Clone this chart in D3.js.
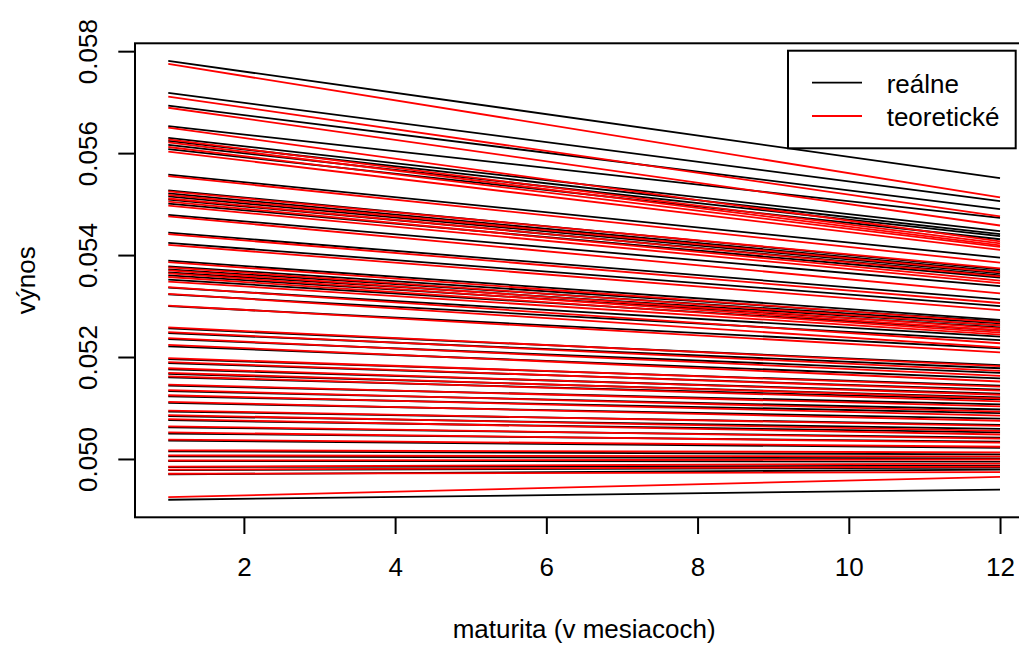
<!DOCTYPE html>
<html>
<head>
<meta charset="utf-8">
<script src="https://cdn.jsdelivr.net/npm/d3@7"></script>
<style>
  html, body { margin: 0; padding: 0; background: #ffffff; }
  svg { display: block; }
  text { font-family: "Liberation Sans", Arial, Helvetica, sans-serif; fill: #000; }
</style>
</head>
<body>
<div id="chart"></div>
<script>
// Maturities (months) at which each yield curve is evaluated
const maturities = [1, 12];

// Observed yield curves: yield at 1 month and at 12 months
const realStart = [
  0.05781, 0.05718, 0.05693, 0.05653, 0.05630, 0.05624, 0.05616, 0.05608,
  0.05558, 0.05527, 0.05521, 0.05515, 0.05509, 0.05501, 0.05479, 0.05444,
  0.05424, 0.05389, 0.05378, 0.05372, 0.05366, 0.05360, 0.05352, 0.05336,
  0.05323, 0.05300, 0.05256, 0.05247, 0.05235, 0.05221, 0.05196, 0.05188,
  0.05176, 0.05167, 0.05160, 0.05144, 0.05133, 0.05123, 0.05110, 0.05093,
  0.05084, 0.05076, 0.05062, 0.05050, 0.05036, 0.05015, 0.05005, 0.04996,
  0.04984, 0.04978, 0.04970, 0.04920
];
const realEnd = [
  0.05551, 0.05506, 0.05490, 0.05473, 0.05447, 0.05441, 0.05437, 0.05431,
  0.05395, 0.05372, 0.05368, 0.05364, 0.05360, 0.05356, 0.05339, 0.05313,
  0.05300, 0.05273, 0.05270, 0.05266, 0.05262, 0.05258, 0.05252, 0.05240,
  0.05233, 0.05217, 0.05184, 0.05178, 0.05169, 0.05158, 0.05144, 0.05136,
  0.05128, 0.05121, 0.05117, 0.05107, 0.05097, 0.05090, 0.05079, 0.05067,
  0.05059, 0.05052, 0.05042, 0.05034, 0.05022, 0.05009, 0.05001, 0.04995,
  0.04987, 0.04983, 0.04979, 0.04940
];

// Model (theoretical) yield curves: yield at 1 month and at 12 months
const theoStart = [
  0.05775, 0.05711, 0.05689, 0.05650, 0.05627, 0.05621, 0.05612, 0.05603,
  0.05555, 0.05525, 0.05518, 0.05511, 0.05505, 0.05497, 0.05476, 0.05441,
  0.05420, 0.05386, 0.05376, 0.05370, 0.05364, 0.05357, 0.05348, 0.05337,
  0.05324, 0.05301, 0.05258, 0.05249, 0.05237, 0.05224, 0.05198, 0.05190,
  0.05178, 0.05169, 0.05162, 0.05146, 0.05135, 0.05125, 0.05112, 0.05095,
  0.05086, 0.05078, 0.05064, 0.05052, 0.05038, 0.05017, 0.05007, 0.04997,
  0.04985, 0.04979, 0.04971, 0.04925
];
const theoEnd = [
  0.05513, 0.05476, 0.05458, 0.05427, 0.05423, 0.05419, 0.05416, 0.05410,
  0.05385, 0.05374, 0.05366, 0.05358, 0.05350, 0.05345, 0.05325, 0.05306,
  0.05292, 0.05268, 0.05262, 0.05256, 0.05252, 0.05248, 0.05244, 0.05227,
  0.05219, 0.05209, 0.05182, 0.05173, 0.05163, 0.05152, 0.05142, 0.05134,
  0.05126, 0.05119, 0.05113, 0.05103, 0.05093, 0.05085, 0.05075, 0.05065,
  0.05055, 0.05048, 0.05040, 0.05032, 0.05024, 0.05013, 0.05005, 0.04999,
  0.04991, 0.04985, 0.04974, 0.04965
];

// Axis ticks and labels
const xTicks = [2, 4, 6, 8, 10, 12];
const yTicks = [0.050, 0.052, 0.054, 0.056, 0.058];
const xTitle = "maturita (v mesiacoch)";
const yTitle = "výnos";
const legendLabels = ["reálne", "teoretické"];
const seriesColors = ["#000000", "#ff0000"];

const W = 1019, H = 646;
const plot = { left: 135, right: 1033.3, top: 43.3, bottom: 517.3 };
const fontSize = 26;

const realCurves = realStart.map((s, i) => [s, realEnd[i]]);
const theoCurves = theoStart.map((s, i) => [s, theoEnd[i]]);

// Axis limits extended by 4% on each side
function padded(ext) {
  const p = (ext[1] - ext[0]) * 0.04;
  return [ext[0] - p, ext[1] + p];
}
const allY = realStart.concat(realEnd, theoStart, theoEnd);

const x = d3.scaleLinear()
  .domain(padded(d3.extent(maturities)))
  .range([plot.left, plot.right]);
const y = d3.scaleLinear()
  .domain(padded(d3.extent(allY)))
  .range([plot.bottom, plot.top]);

const svg = d3.select("#chart").append("svg")
  .attr("width", W).attr("height", H);

svg.append("rect").attr("width", W).attr("height", H).attr("fill", "#fff");

const line = d3.line()
  .x((d, i) => x(maturities[i]))
  .y(d => y(d));

// Observed curves first, model curves drawn over them
const curves = svg.append("g").attr("fill", "none").attr("stroke-width", 1.8);
[realCurves, theoCurves].forEach((set, k) => {
  curves.append("g").selectAll("path")
    .data(set)
    .join("path")
    .attr("d", line)
    .attr("stroke", seriesColors[k]);
});

// Plot frame
svg.append("rect")
  .attr("x", plot.left).attr("y", plot.top)
  .attr("width", plot.right - plot.left).attr("height", plot.bottom - plot.top)
  .attr("fill", "none").attr("stroke", "#000").attr("stroke-width", 2);

// X axis
const gx = svg.append("g")
  .attr("transform", `translate(0,${plot.bottom})`)
  .call(d3.axisBottom(x).tickValues(xTicks).tickSize(16.7).tickFormat(d3.format("d")));
gx.select(".domain").remove();
gx.selectAll(".tick line").attr("stroke-width", 2);
gx.selectAll(".tick text")
  .attr("y", 58.7).attr("dy", 0)
  .attr("font-size", fontSize).attr("font-family", null);

// Y axis
const gy = svg.append("g")
  .attr("transform", `translate(${plot.left},0)`)
  .call(d3.axisLeft(y).tickValues(yTicks).tickSize(16.7).tickFormat(d3.format(".3f")));
gy.select(".domain").remove();
gy.selectAll(".tick line").attr("stroke-width", 2);
gy.selectAll(".tick text")
  .attr("x", 0).attr("dy", 0)
  .attr("text-anchor", "middle")
  .attr("transform", "translate(-38,0) rotate(-90)")
  .attr("font-size", fontSize).attr("font-family", null);

// Axis titles
svg.append("text")
  .attr("x", (plot.left + plot.right) / 2).attr("y", 637.5)
  .attr("text-anchor", "middle").attr("font-size", fontSize)
  .text(xTitle);
svg.append("text")
  .attr("transform", `translate(35,${(plot.top + plot.bottom) / 2}) rotate(-90)`)
  .attr("text-anchor", "middle").attr("font-size", fontSize)
  .text(yTitle);

// Legend
const lg = svg.append("g");
lg.append("rect")
  .attr("x", 788).attr("y", 50.7).attr("width", 227.7).attr("height", 97.6)
  .attr("fill", "#fff").attr("stroke", "#000").attr("stroke-width", 2);
const legendRows = [82.7, 116];
legendLabels.forEach((lab, i) => {
  lg.append("line")
    .attr("x1", 812).attr("x2", 862)
    .attr("y1", legendRows[i]).attr("y2", legendRows[i])
    .attr("stroke", seriesColors[i]).attr("stroke-width", 1.8);
  lg.append("text")
    .attr("x", 886.7).attr("y", legendRows[i] + 10)
    .attr("font-size", fontSize)
    .text(lab);
});
</script>
</body>
</html>
